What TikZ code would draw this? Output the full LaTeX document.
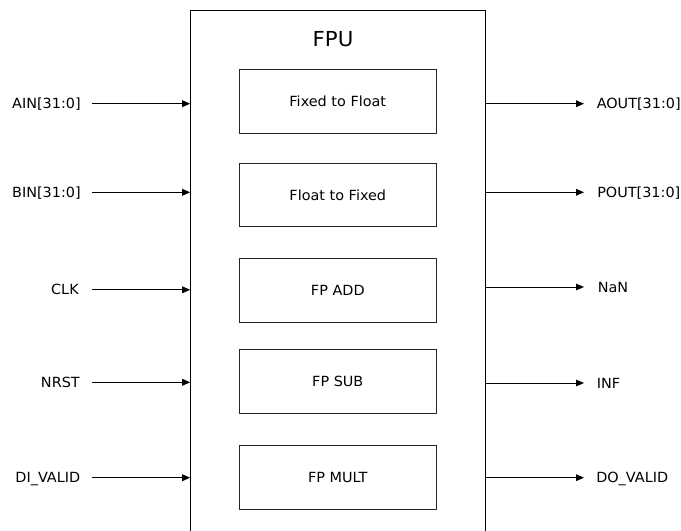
\documentclass[tikz,border=0pt]{standalone}
\usepackage{fontspec}
\setmainfont{DejaVu Sans}[FakeStretch=1.03]
\usetikzlibrary{arrows.meta}
\begin{document}
\begin{tikzpicture}[x=0.75pt,y=-0.75pt,
  lbl/.style={font=\fontsize{10.5}{12}\selectfont,inner sep=0pt,text height=7.65pt,text depth=0pt},
  unitbox/.style={draw=black!85,line width=0.75pt,minimum width=147.75pt,minimum height=47.8pt,inner sep=0pt,
    font=\fontsize{10.5}{12}\selectfont},
  outerbox/.style={draw=black,line width=0.75pt,minimum width=220.95pt,minimum height=400.7pt,inner sep=0pt},
  sig/.style={draw=black,line width=0.75pt,-{Triangle[length=6pt,width=5pt]}}]
\useasboundingbox (0,0) rectangle (681,531);
\clip (0,0) rectangle (681,531);
\fill[white] (0,0) rectangle (681,531);
% outer FPU block
\node[outerbox] (fpu) at (338,277.85) {};
\node[font=\fontsize{15.5}{18}\selectfont,inner sep=0pt] (fputitle) at (333,39.5) {FPU};
% inner units
\node[unitbox] (u1) at (337.8,101.5) {Fixed to Float};
\node[unitbox] (u2) at (337.8,195) {Float to Fixed};
\node[unitbox] (u3) at (337.8,290.5) {FP ADD};
\node[unitbox] (u4) at (337.8,381.2) {FP SUB};
\node[unitbox] (u5) at (337.8,477.3) {FP MULT};
% input labels
\node[lbl,anchor=east] (ain) at (81,103.7) {AIN[31:0]};
\node[lbl,anchor=east] (bin) at (81,192.3) {BIN[31:0]};
\node[lbl,anchor=east] (clk) at (79,289.8) {CLK};
\node[lbl,anchor=east] (nrst) at (80,382.3) {NRST};
\node[lbl,anchor=east] (divalid) at (80.5,477.7) {DI\_VALID};
% output labels
\node[lbl,anchor=west] (aout) at (596.5,103.7) {AOUT[31:0]};
\node[lbl,anchor=west] (pout) at (597,192.3) {POUT[31:0]};
\node[lbl,anchor=west] (nan) at (597.5,287) {NaN};
\node[lbl,anchor=west] (inf) at (596.5,383) {INF};
\node[lbl,anchor=west] (dovalid) at (596,477.7) {DO\_VALID};
% input arrows
\foreach \s/\g in {ain/10.7,bin/10.7,clk/12.7,nrst/11.7,divalid/11.2}
  \draw[sig,shorten <=\g*0.75pt] (\s.east) -- (\s.east -| fpu.west);
% output arrows
\foreach \s/\g in {aout/12.5,pout/13,nan/13.5,inf/12.5,dovalid/12}
  \draw[sig,shorten >=\g*0.75pt] (\s.west -| fpu.east) -- (\s.west);
\end{tikzpicture}
\end{document}
